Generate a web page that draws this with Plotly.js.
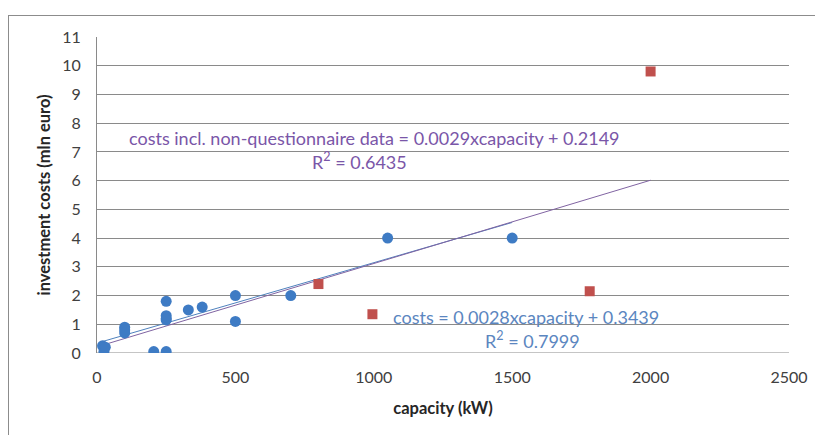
<!DOCTYPE html>
<html>
<head>
<meta charset="utf-8">
<script src="https://cdn.plot.ly/plotly-3.0.1.min.js"></script>
<style>
html,body{margin:0;padding:0;background:#fff;}
#wrap{position:relative;width:815px;height:435px;}
#chart{width:815px;height:435px;}
#frame{position:absolute;left:8px;top:15px;width:820px;height:430px;border-top:1.5px solid #8c8c8c;border-left:1.5px solid #8c8c8c;pointer-events:none;}
</style>
</head>
<body>
<div id="wrap"><div id="chart"></div><div id="frame"></div></div>
<script>
// Questionnaire data (blue circles)
const questCapacity = [20, 25, 30, 100, 100, 100, 205, 250, 250, 250, 250, 250, 330, 380, 500, 500, 700, 1050, 1500];
const questCosts    = [0.25, 0.05, 0.2, 0.9, 0.8, 0.7, 0.05, 0.05, 1.8, 1.3, 1.2, 1.15, 1.5, 1.6, 2.0, 1.1, 2.0, 4.0, 4.0];
// Non-questionnaire data (red squares)
const nonQuestCapacity = [800, 995, 1780, 2000];
const nonQuestCosts    = [2.4, 1.35, 2.15, 9.8];
// Trendline coefficients as printed on the chart
const fitQuest = {slope: 0.0028, intercept: 0.3439, r2: "0.7999"};
const fitAll   = {slope: 0.0029, intercept: 0.2149, r2: "0.6435"};
const xTicks = [0, 500, 1000, 1500, 2000, 2500];
const yTicks = [0,1,2,3,4,5,6,7,8,9,10,11];

const allCap = questCapacity.concat(nonQuestCapacity);
const qx = [Math.min(...questCapacity), Math.max(...questCapacity)];
const ax = [Math.min(...allCap), Math.max(...allCap)];

const font = "Lato, 'Open Sans', sans-serif";

const traces = [
  {x: qx, y: qx.map(v => fitQuest.slope*v + fitQuest.intercept), mode:'lines', type:'scatter',
   line:{color:'#4F81BD', width:1}, hoverinfo:'skip'},
  {x: ax, y: ax.map(v => fitAll.slope*v + fitAll.intercept), mode:'lines', type:'scatter',
   line:{color:'#8064A2', width:1}, hoverinfo:'skip'},
  {x: questCapacity, y: questCosts, mode:'markers', type:'scatter',
   marker:{symbol:'circle', size:11, color:'#3E7BC4'}},
  {x: nonQuestCapacity, y: nonQuestCosts, mode:'markers', type:'scatter',
   marker:{symbol:'square', size:10, color:'#C0504D'}}
];

const layout = {
  width: 815, height: 435,
  margin: {l: 97, r: 26, t: 37, b: 82},
  paper_bgcolor: '#fff', plot_bgcolor: '#fff',
  showlegend: false,
  font: {family: font, size: 16, color: '#404040'},
  xaxis: {
    range: [0, 2500], tickvals: xTicks, ticktext: xTicks.map(String),
    showgrid: false, zeroline: false, showline: false, ticks: '',
    ticklabelstandoff: 13,
    tickfont: {family: font, size: 16, color: '#404040'},
    title: {text: '<b>capacity (kW)</b>', font: {family: font, size: 16.5, color: '#262626'}, standoff: 17}
  },
  yaxis: {
    range: [0, 11], tickvals: yTicks, ticktext: yTicks.map(String),
    showgrid: true, gridcolor: '#8a8a8a', gridwidth: 1,
    zeroline: false, showline: true, linecolor: '#8a8a8a', linewidth: 1, ticks: '',
    ticklabelstandoff: 12,
    tickfont: {family: font, size: 16, color: '#404040'},
    title: {text: '<b>investment costs (mln euro)</b>', font: {family: font, size: 16.5, color: '#262626'}, standoff: 7}
  },
  shapes: [
    {type:'line', xref:'x', yref:'y', x0:0, x1:2500, y0:0, y1:0, line:{color:'#8a8a8a', width:1}, layer:'below'}
  ],
  annotations: [
    {x: 1003, y: 7.49, xref:'x', yref:'y', showarrow:false,
     text: 'costs incl. non-questionnaire data = ' + fitAll.slope.toFixed(4) + 'xcapacity + ' + fitAll.intercept.toFixed(4),
     font:{family: font, size: 18, color:'#7A56A8'}},
    {x: 950, y: 6.69, xref:'x', yref:'y', showarrow:false,
     text: 'R<sup>2</sup> = ' + fitAll.r2, font:{family: font, size: 18, color:'#7A56A8'}},
    {x: 1549, y: 1.25, xref:'x', yref:'y', showarrow:false,
     text: 'costs = ' + fitQuest.slope.toFixed(4) + 'xcapacity + ' + fitQuest.intercept.toFixed(4),
     font:{family: font, size: 18, color:'#5B86C0'}},
    {x: 1574, y: 0.45, xref:'x', yref:'y', showarrow:false,
     text: 'R<sup>2</sup> = ' + fitQuest.r2, font:{family: font, size: 18, color:'#5B86C0'}}
  ]
};

Plotly.newPlot('chart', traces, layout, {displayModeBar: false, staticPlot: true});
</script>
</body>
</html>
